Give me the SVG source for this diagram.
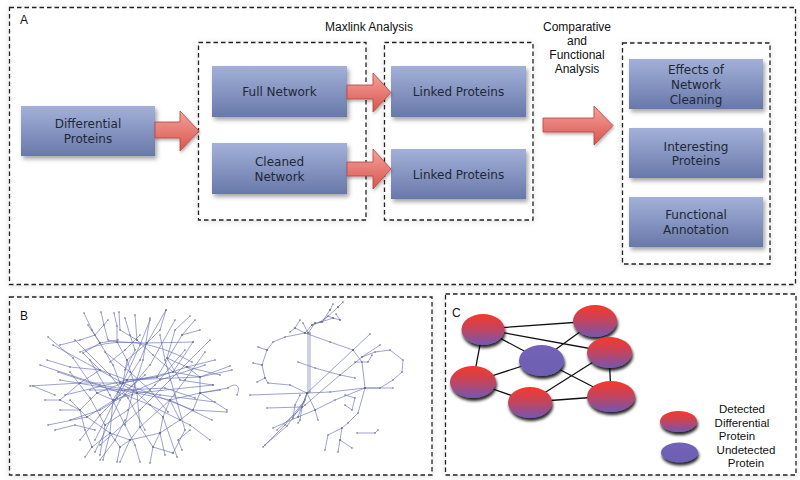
<svg xmlns="http://www.w3.org/2000/svg" width="800" height="480" viewBox="0 0 800 480">
<style>
.panel{fill:#fff;stroke:#222;stroke-width:1.3;stroke-dasharray:4.5,3;}
.group{fill:#fff;stroke:#222;stroke-width:1.3;stroke-dasharray:4.5,3;}
.box{fill:url(#boxg);filter:url(#shadow);}
.bt{font-family:"DejaVu Sans",Verdana,sans-serif;font-size:12px;fill:#1e2838;text-anchor:middle;}
.lbl{font-family:"Liberation Sans",Arial,sans-serif;font-size:12px;fill:#111;}
.ttl{font-family:"Liberation Sans",Arial,sans-serif;font-size:12px;fill:#111;text-anchor:middle;}
.leg{font-family:"Liberation Sans",Arial,sans-serif;font-size:11.5px;fill:#111;text-anchor:middle;}
.arrow{fill:url(#arrg);stroke:#b8433d;stroke-width:0.8;filter:url(#ashadow);}
.net{fill:none;stroke:#6870b6;stroke-width:0.65;marker-start:url(#dot);marker-mid:url(#dot);marker-end:url(#dot);}
.edge{stroke:#111;stroke-width:1.3;}
.prot{fill:url(#redg);filter:url(#eshadow);}
.und{fill:url(#purg);filter:url(#eshadow);}
</style>
<defs>
<linearGradient id="boxg" x1="0" y1="0" x2="0" y2="1">
<stop offset="0" stop-color="#a3b1d9"/>
<stop offset="1" stop-color="#6878a9"/>
</linearGradient>
<linearGradient id="arrg" x1="0" y1="0" x2="0" y2="1">
<stop offset="0" stop-color="#f3a39c"/>
<stop offset="1" stop-color="#d9544d"/>
</linearGradient>
<linearGradient id="redg" x1="0" y1="0" x2="0" y2="1">
<stop offset="0.1" stop-color="#ee3a33"/>
<stop offset="0.5" stop-color="#c04560"/>
<stop offset="1" stop-color="#7656b0"/>
</linearGradient>
<linearGradient id="purg" x1="0" y1="0" x2="0" y2="1">
<stop offset="0" stop-color="#7363b8"/>
<stop offset="1" stop-color="#6d5fb2"/>
</linearGradient>
<filter id="shadow" x="-10%" y="-10%" width="130%" height="140%">
<feDropShadow dx="2" dy="3" stdDeviation="2" flood-color="#000" flood-opacity="0.35"/>
</filter>
<filter id="ashadow" x="-10%" y="-10%" width="130%" height="140%">
<feDropShadow dx="1" dy="2" stdDeviation="1.5" flood-color="#000" flood-opacity="0.3"/>
</filter>
<filter id="eshadow" x="-20%" y="-20%" width="150%" height="170%">
<feDropShadow dx="1" dy="3" stdDeviation="1.8" flood-color="#000" flood-opacity="0.85"/>
</filter>
<filter id="pshadow" x="-5%" y="-5%" width="110%" height="110%">
<feDropShadow dx="0" dy="1" stdDeviation="3" flood-color="#000" flood-opacity="0.12"/>
</filter>
<marker id="dot" markerUnits="userSpaceOnUse" markerWidth="3" markerHeight="3" refX="1.5" refY="1.5">
<circle cx="1.5" cy="1.5" r="0.8" fill="#6a6a7a"/>
</marker>
</defs>
<rect width="800" height="480" fill="#fff"/>

<!-- Panel A -->
<g id="panelA">
<rect class="panel" x="9.5" y="7.5" width="786" height="277" filter="url(#pshadow)"/>
<text class="lbl" x="20" y="24">A</text>
<text class="ttl" x="369" y="31">Maxlink Analysis</text>
<text class="ttl" x="577" y="31">Comparative</text>
<text class="ttl" x="577" y="45">and</text>
<text class="ttl" x="577" y="59">Functional</text>
<text class="ttl" x="577" y="73">Analysis</text>
<rect class="group" x="198.5" y="42.5" width="167.5" height="177.5" filter="url(#pshadow)"/>
<rect class="group" x="384.5" y="42.5" width="148.5" height="177.5" filter="url(#pshadow)"/>
<rect class="group" x="622.5" y="43" width="147.5" height="221" filter="url(#pshadow)"/>
</g>

<g id="differential">
<rect class="box" x="21" y="106" width="134" height="50"/>
<text class="bt" x="88" y="128">Differential</text>
<text class="bt" x="88" y="142.5">Proteins</text>
</g>
<g id="fullnet">
<rect class="box" x="212" y="66" width="135" height="51"/>
<text class="bt" x="279.5" y="96">Full Network</text>
</g>
<g id="cleanednet">
<rect class="box" x="212" y="143" width="135" height="51"/>
<text class="bt" x="279.5" y="166">Cleaned</text>
<text class="bt" x="279.5" y="180.5">Network</text>
</g>
<g id="linked1">
<rect class="box" x="391" y="66" width="135" height="51"/>
<text class="bt" x="458.5" y="96">Linked Proteins</text>
</g>
<g id="linked2">
<rect class="box" x="391" y="149" width="135" height="50"/>
<text class="bt" x="458.5" y="178.5">Linked Proteins</text>
</g>
<g id="effects">
<rect class="box" x="629" y="59" width="134" height="50"/>
<text class="bt" x="696" y="73.5">Effects of</text>
<text class="bt" x="696" y="88.5">Network</text>
<text class="bt" x="696" y="103.5">Cleaning</text>
</g>
<g id="interesting">
<rect class="box" x="629" y="128" width="134" height="50"/>
<text class="bt" x="696" y="150.5">Interesting</text>
<text class="bt" x="696" y="164.5">Proteins</text>
</g>
<g id="functional">
<rect class="box" x="629" y="197" width="134" height="50"/>
<text class="bt" x="696" y="218.5">Functional</text>
<text class="bt" x="696" y="233.5">Annotation</text>
</g>

<g id="connectors">
<polygon class="arrow" points="155,122 180,122 180,111 199,131 180,151 180,138 155,138"/>
<polygon class="arrow" points="347,85 373,85 373,73 391,92.5 373,112 373,99 347,99"/>
<polygon class="arrow" points="347,162 373,162 373,149 391,169 373,189 373,176 347,176"/>
<polygon class="arrow" points="543,118 594,118 594,106 613,125.5 594,145 594,132 543,132"/>
</g>

<!-- Panel B -->
<g id="panelB">
<rect class="panel" x="9.5" y="297" width="422.5" height="178" filter="url(#pshadow)"/>
<text class="lbl" x="20" y="320">B</text>
<path class="net" d="M84,313 L92,330 L100,343 L113,365 L120,383 L137,393 L163,417 L177,457
M101,312 L104,325 L108,340 L117,342 L127,360 L123,383 L113,400 L110,433 L103,460
M114,313 L117,326 L117,342 L147,343 L166,310
M119,312 L120,330 L137,340 L153,355 L173,372 L200,377 L230,366
M166,310 L160,330 L147,343 L140,360 L127,380 L117,398 L87,417 L48,425
M190,316 L175,330 L167,358 L180,380 L213,385
M195,320 L182,335 L157,377 L127,380 L100,370 L70,367 L47,360
M48,337 L73,358 L97,393 L113,400 L137,393 L170,400 L212,420
M30,386 L80,383 L120,383 L157,377 L187,367 L220,375
M60,400 L80,383 L100,370 L83,353 L100,343 L118,340
M60,410 L80,410 L97,393 L123,383 L173,372 L193,342
M70,400 L87,417 L110,433 L130,440 L160,433 L180,420 L193,410 L200,393 L200,377 L187,367 L167,358
M85,457 L92,447 L110,433 L120,447 L117,462
M150,463 L153,447 L160,433 L163,417 L170,400 L180,420
M173,453 L153,447 L140,427 L137,393 L127,360 L147,343 L193,342
M227,410 L200,393 L170,400 L140,427 L130,440 L120,447
M237,395 C241,386 236,382 228,388 L200,393
M53,345 L123,383 L193,410 L227,412
M60,380 L137,393 L213,385
M65,395 L127,380 L200,377 L232,370
M90,360 L110,395 L135,445 L140,462
M95,440 L115,400 L140,345 L150,320
M175,320 L150,365 L120,400 L95,452
M210,340 L170,380 L140,410 L100,445
M40,365 L100,385 L160,395 L215,402
M80,352 Q130,328 192,362
M70,372 L90,398 L105,425 L100,455
M160,335 L165,360 L175,395 L185,430 L173,453
M205,352 L185,380 L170,400
M125,318 L130,335 L135,350 L125,370
M108,320 L95,335 L80,340 L60,345
M88,325 L100,343
M135,315 L137,340
M200,330 L182,335
M220,390 L200,393
M45,400 L60,400 L80,410 L85,430 L92,447
M120,462 L130,440
M165,455 L160,433
M215,360 L187,367
M33,386 L55,395
M58,372 L118,392 L150,405 L190,425 L210,440
M75,340 L110,375 L128,398 L145,430
M150,318 L143,360 L132,395 L125,425
M185,350 L155,385 L128,410 L105,425
M70,420 L100,410 L125,395 L160,380 L205,365
M90,390 L125,390 L165,388 L195,398
M105,352 L130,372 L150,390 L168,412
M145,375 L120,395 L100,415 L80,440
M140,335 L125,350 L110,362
M190,430 L178,440 L182,450
M100,460 L115,440 L125,420
M55,430 L75,425 L95,430"/>
<path class="net" d="M308,333 L308,393
M310,333 L310,392
M295,328 L305,333 L312,325 L315,323 L322,322 L330,310
M322,322 L338,307
M312,325 L333,318 L340,320
M303,323 L308,333 L315,323
M305,333 L330,342 L353,350
M305,333 L285,337 L273,342 L267,350 L262,365 L265,378 L268,383 L290,385 L307,393
M253,363 L262,365
M258,347 L267,350
M257,382 L265,378
M250,395 L307,393 L330,392 L365,388 L393,388
M353,350 L362,362 L365,388 L358,413 L348,423 L342,428 L340,440 L352,448
M342,428 L328,435 L325,450
M340,440 L338,452
M362,357 L375,352 L390,350 L403,360 L402,372 L393,380 L380,388 L365,388
M353,350 L370,334
M277,430 L305,405 L340,375 L362,357 L380,345
M307,393 L353,350
M263,447 L285,425 L305,400 L307,393
M265,445 L287,426 L304,402
M273,428 L298,417 L315,410 L335,400 L365,388
M267,408 L302,407 L307,393
M298,362 L315,368 L340,375 L355,378
M302,407 L300,420 L298,423
M357,433 L375,433 L378,430
M345,395 L355,398 L352,410 L345,405
M307,393 L315,410 L318,420
M307,393 L298,417
M300,395 L295,405 L293,418
M355,362 L368,362 L372,355
M290,332 L295,328 L300,320
M320,322 L328,316 L333,318
M340,320 L336,314
M330,310 L333,304
M338,307 L343,302"/>
</g>

<!-- Panel C -->
<g id="panelC">
<rect class="panel" x="445.5" y="294" width="350.5" height="181" filter="url(#pshadow)"/>
<text class="lbl" x="452" y="317">C</text>
</g>
<g id="c-edges">
<line class="edge" x1="483" y1="329" x2="595" y2="321"/>
<line class="edge" x1="483" y1="329" x2="609" y2="352"/>
<line class="edge" x1="483" y1="329" x2="541" y2="360"/>
<line class="edge" x1="483" y1="329" x2="473" y2="382"/>
<line class="edge" x1="595" y1="321" x2="541" y2="360"/>
<line class="edge" x1="541" y1="360" x2="473" y2="382"/>
<line class="edge" x1="541" y1="360" x2="611" y2="396"/>
<line class="edge" x1="609" y1="352" x2="530" y2="402"/>
<line class="edge" x1="609" y1="352" x2="611" y2="396"/>
<line class="edge" x1="473" y1="382" x2="530" y2="402"/>
<line class="edge" x1="530" y1="402" x2="611" y2="396"/>
</g>
<g id="c-n1"><ellipse class="prot" cx="483" cy="329.5" rx="21.5" ry="15.5"/></g>
<g id="c-n2"><ellipse class="prot" cx="595" cy="321" rx="22" ry="16"/></g>
<g id="c-n3"><ellipse class="und" cx="541.5" cy="360.5" rx="22.5" ry="15.5"/></g>
<g id="c-n4"><ellipse class="prot" cx="609.5" cy="352.5" rx="22.5" ry="15.5"/></g>
<g id="c-n5"><ellipse class="prot" cx="473" cy="382" rx="23" ry="16"/></g>
<g id="c-n6"><ellipse class="prot" cx="530" cy="402.5" rx="22" ry="15.5"/></g>
<g id="c-n7"><ellipse class="prot" cx="611" cy="396.5" rx="24" ry="15.5"/></g>
<g id="legend">
<ellipse class="prot" cx="678.5" cy="421.5" rx="18.5" ry="10.5"/>
<ellipse class="und" cx="679.5" cy="452.5" rx="18.5" ry="10"/>
<text class="leg" x="742" y="413">Detected</text>
<text class="leg" x="742" y="427">Differential</text>
<text class="leg" x="737" y="440">Protein</text>
<text class="leg" x="746" y="453.5">Undetected</text>
<text class="leg" x="746" y="467">Protein</text>
</g>
</svg>
